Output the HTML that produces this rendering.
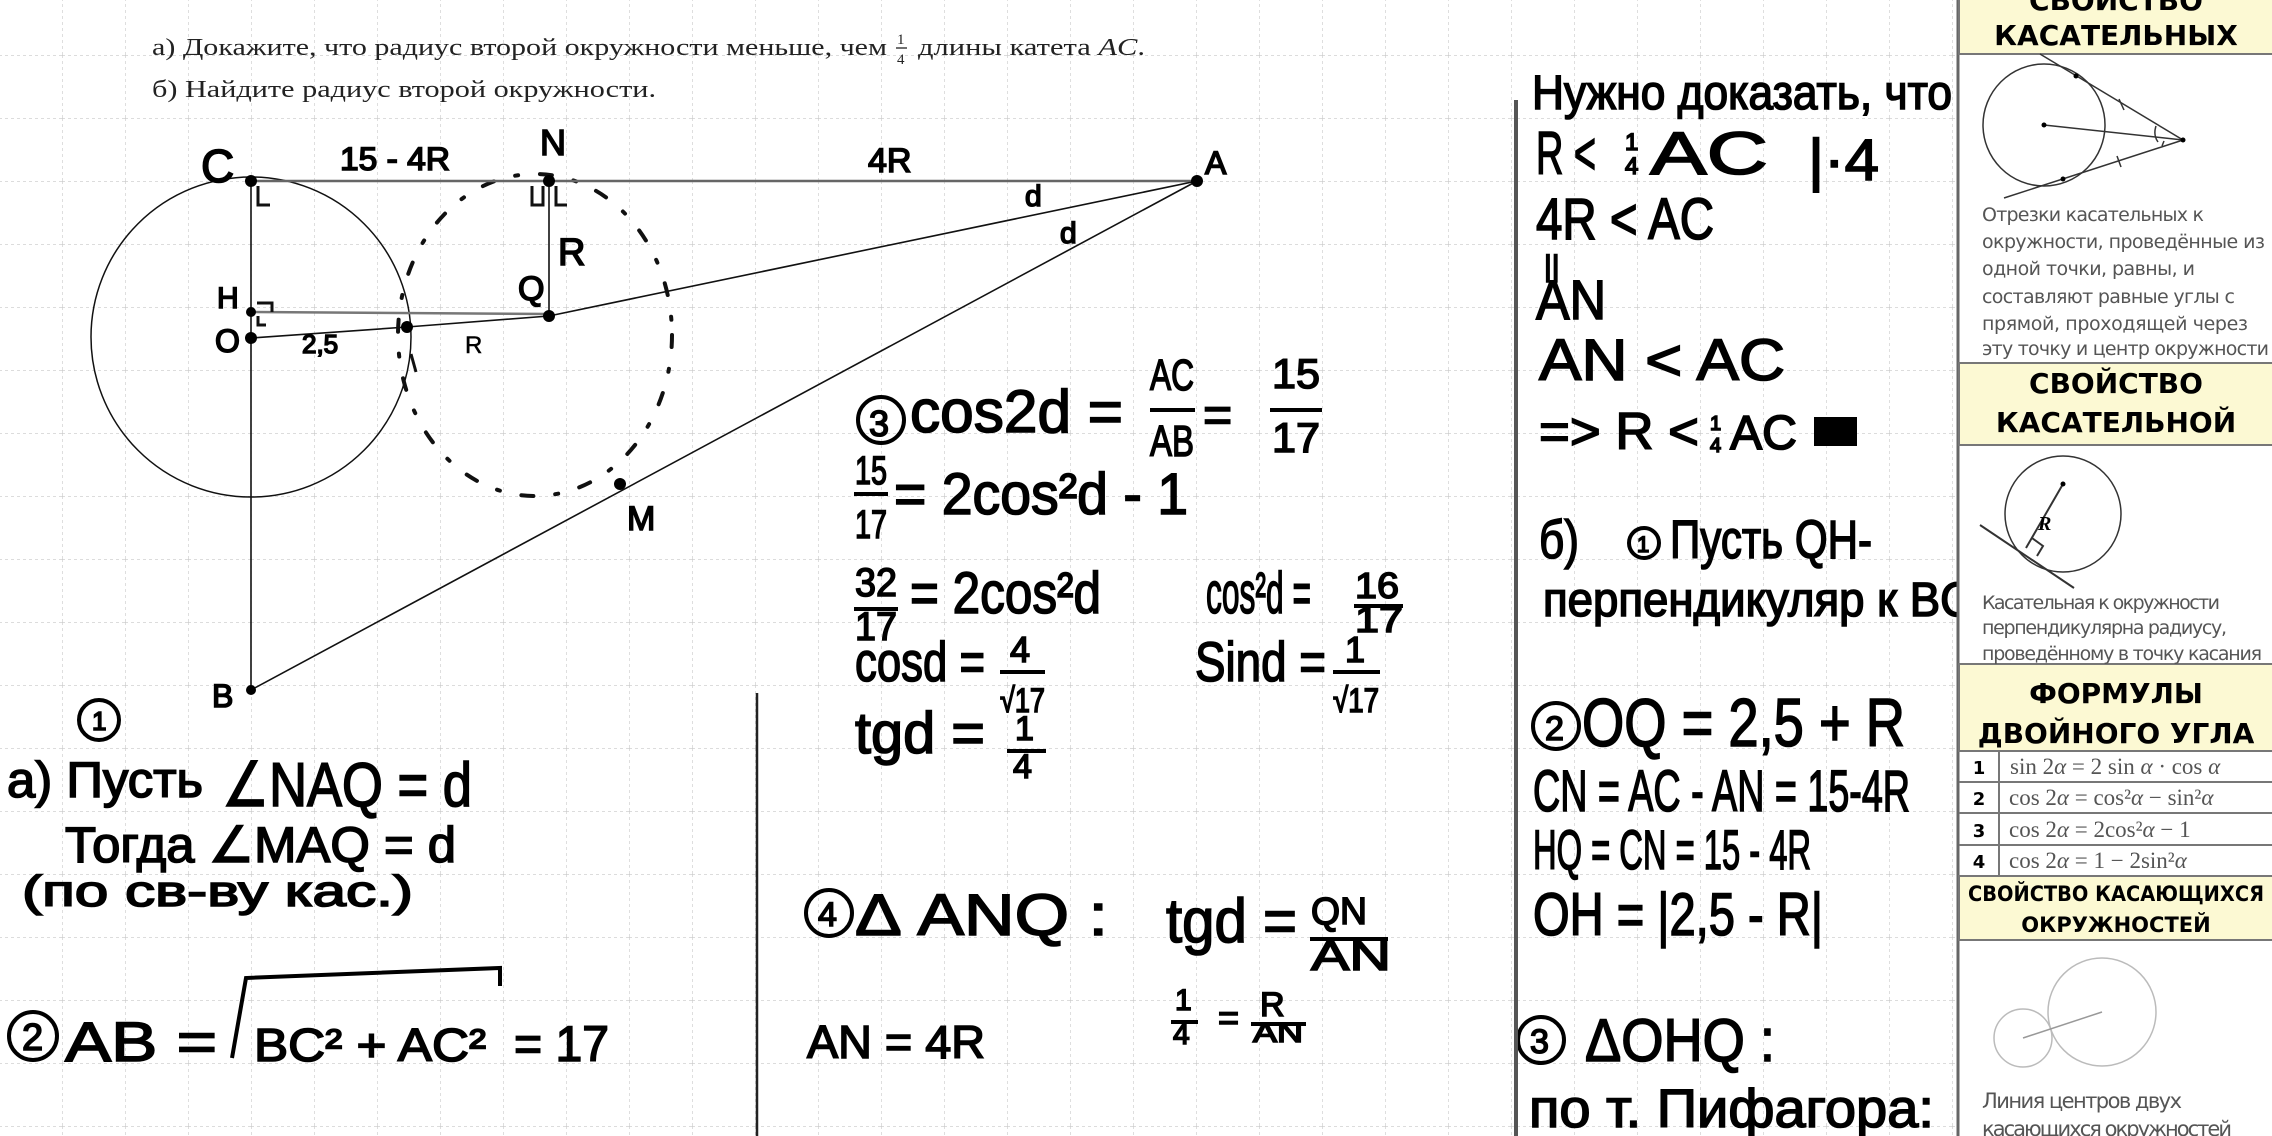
<!DOCTYPE html>
<html><head><meta charset="utf-8"><style>
html,body{margin:0;padding:0;background:#fff}
svg{display:block}
.h{font-family:"Liberation Sans","DejaVu Sans",sans-serif;font-weight:normal;fill:#000;stroke:#000;stroke-width:1.6}
.s{font-family:"Liberation Serif",serif;fill:#222}
.p{font-family:"DejaVu Sans","Liberation Sans",sans-serif;fill:#555}
.hd{font-family:"DejaVu Sans","Liberation Sans",sans-serif;font-weight:bold;fill:#000}
.m{font-family:"Liberation Serif",serif;fill:#555}
</style></head><body>
<svg width="2272" height="1136" viewBox="0 0 2272 1136" xmlns="http://www.w3.org/2000/svg">
<defs>
<pattern id="g" x="62" y="55" width="63" height="63" patternUnits="userSpaceOnUse">
<path d="M0 0V63M0 0H63" stroke="#c8c8c8" stroke-width="1.2" stroke-dasharray="3 3" fill="none"/>
</pattern>
</defs>
<rect width="1958" height="1136" fill="#fff"/>
<rect width="1958" height="1136" fill="url(#g)"/>

<!-- problem text -->
<text class="s" x="152" y="55" font-size="24" textLength="735" lengthAdjust="spacingAndGlyphs">а) Докажите, что радиус второй окружности меньше, чем</text>
<text class="s" x="897" y="44" font-size="15">1</text>
<line x1="896" y1="48" x2="907" y2="48" stroke="#222" stroke-width="1.3"/>
<text class="s" x="897" y="64" font-size="15">4</text>
<text class="s" x="918" y="55" font-size="24" textLength="227" lengthAdjust="spacingAndGlyphs">длины катета <tspan font-style="italic">AC</tspan>.</text>
<text class="s" x="152" y="97" font-size="24" textLength="504" lengthAdjust="spacingAndGlyphs">б) Найдите радиус второй окружности.</text>

<!-- geometry -->
<g stroke="#111" fill="none">
<circle cx="251" cy="337" r="160" stroke-width="1.5"/>
<ellipse cx="535" cy="335" rx="137" ry="161" stroke-width="4" stroke-dasharray="12 22 3 22" stroke-linecap="round"/>
<line x1="251" y1="181" x2="1197" y2="181" stroke-width="2.5" stroke="#666"/>
<line x1="251" y1="181" x2="251" y2="690" stroke-width="1.6"/>
<line x1="1197" y1="181" x2="251" y2="690" stroke-width="1.6"/>
<line x1="1197" y1="181" x2="549" y2="316" stroke-width="1.6"/>
<line x1="251" y1="312" x2="549" y2="314" stroke-width="2.5" stroke="#777"/>
<polyline points="251,338 407,327 549,316" stroke-width="1.6"/>
<line x1="549" y1="181" x2="549" y2="316" stroke-width="1.6"/>
<path d="M258 186V205H270" stroke-width="3"/>
<path d="M543 186V205H532V186" stroke-width="3"/>
<path d="M556 186V205H567" stroke-width="3"/>
<path d="M257 303H272V312" stroke-width="3"/>
<path d="M258 316V325H266" stroke-width="3"/>
<path d="M411 354L416 372" stroke-width="3"/>
</g>
<g fill="#000">
<circle cx="251" cy="181" r="6"/><circle cx="1197" cy="181" r="6"/><circle cx="251" cy="690" r="5"/>
<circle cx="549" cy="181" r="6"/><circle cx="549" cy="316" r="6"/><circle cx="251" cy="312" r="5"/>
<circle cx="251" cy="338" r="6"/><circle cx="407" cy="327" r="6"/><circle cx="620" cy="484" r="6"/>
</g>
<g class="h">
<text x="201" y="182" font-size="46">C</text>
<text x="340" y="170" font-size="32" textLength="110" lengthAdjust="spacingAndGlyphs">15 - 4R</text>
<text x="540" y="155" font-size="36">N</text>
<text x="868" y="172" font-size="34">4R</text>
<text x="1205" y="174" font-size="32">A</text>
<text x="1025" y="206" font-size="30">d</text>
<text x="1060" y="243" font-size="30">d</text>
<text x="558" y="265" font-size="38">R</text>
<text x="518" y="300" font-size="34">Q</text>
<text x="217" y="308" font-size="30">H</text>
<text x="215" y="352" font-size="32">O</text>
<text x="302" y="353" font-size="26">2,5</text>
<text x="465" y="353" font-size="24" stroke-width="0.5">R</text>
<text x="627" y="530" font-size="34">M</text>
<text x="212" y="707" font-size="32">B</text>
</g>

<!-- left bottom -->
<g stroke="#000" stroke-width="4" fill="none">
<circle cx="99" cy="720" r="20"/>
<circle cx="33" cy="1036" r="24"/>
<path d="M232 1058L246 978L500 968V986"/>
<circle cx="881" cy="420" r="23"/>
<circle cx="829" cy="913" r="23"/>
<circle cx="1644" cy="543" r="15"/>
<circle cx="1556" cy="726" r="23"/>
<circle cx="1541" cy="1040" r="23"/>
</g>
<g class="h">
<text x="92" y="730" font-size="26">1</text>
<text x="7" y="797" font-size="50" textLength="196" lengthAdjust="spacingAndGlyphs">а) Пусть</text>
<text x="222" y="806" font-size="62" textLength="250" lengthAdjust="spacingAndGlyphs">∠NAQ = d</text>
<text x="65" y="862" font-size="50" textLength="391" lengthAdjust="spacingAndGlyphs">Тогда ∠MAQ = d</text>
<text x="22" y="906" font-size="44" textLength="391" lengthAdjust="spacingAndGlyphs">(по св-ву кас.)</text>
<text x="22" y="1050" font-size="38">2</text>
<text x="65" y="1061" font-size="56" textLength="152" lengthAdjust="spacingAndGlyphs">AB =</text>
<text x="254" y="1061" font-size="46" textLength="232" lengthAdjust="spacingAndGlyphs">BC² + AC²</text>
<text x="514" y="1061" font-size="50" textLength="95" lengthAdjust="spacingAndGlyphs">= 17</text>

<!-- middle -->
<text x="869" y="436" font-size="36">3</text>
<text x="910" y="432" font-size="60" textLength="213" lengthAdjust="spacingAndGlyphs">cos2d =</text>
<text x="1150" y="390" font-size="44" textLength="44" lengthAdjust="spacingAndGlyphs">AC</text>
<text x="1150" y="456" font-size="44" textLength="44" lengthAdjust="spacingAndGlyphs">AB</text>
<text x="1203" y="432" font-size="50">=</text>
<text x="1272" y="388" font-size="42" textLength="48" lengthAdjust="spacingAndGlyphs">15</text>
<text x="1272" y="452" font-size="42" textLength="48" lengthAdjust="spacingAndGlyphs">17</text>

<text x="855" y="484" font-size="40" textLength="32" lengthAdjust="spacingAndGlyphs">15</text>
<text x="855" y="538" font-size="40" textLength="32" lengthAdjust="spacingAndGlyphs">17</text>
<text x="894" y="514" font-size="58" textLength="294" lengthAdjust="spacingAndGlyphs">= 2cos²d - 1</text>

<text x="855" y="596" font-size="40" textLength="42" lengthAdjust="spacingAndGlyphs">32</text>
<text x="855" y="640" font-size="40" textLength="42" lengthAdjust="spacingAndGlyphs">17</text>
<text x="910" y="613" font-size="58" textLength="191" lengthAdjust="spacingAndGlyphs">= 2cos²d</text>

<text x="1206" y="613" font-size="58" textLength="105" lengthAdjust="spacingAndGlyphs">cos²d =</text>
<text x="1355" y="598" font-size="36" textLength="44" lengthAdjust="spacingAndGlyphs">16</text>
<text x="1355" y="632" font-size="36" textLength="48" lengthAdjust="spacingAndGlyphs">17</text>

<text x="855" y="681" font-size="56" textLength="130" lengthAdjust="spacingAndGlyphs">cosd =</text>
<text x="1010" y="662" font-size="36">4</text>
<text x="1000" y="712" font-size="34" textLength="45" lengthAdjust="spacingAndGlyphs">√17</text>
<text x="1195" y="681" font-size="56" textLength="131" lengthAdjust="spacingAndGlyphs">Sind =</text>
<text x="1345" y="662" font-size="36">1</text>
<text x="1333" y="712" font-size="34" textLength="46" lengthAdjust="spacingAndGlyphs">√17</text>

<text x="855" y="753" font-size="58" textLength="130" lengthAdjust="spacingAndGlyphs">tgd =</text>
<text x="1015" y="740" font-size="34">1</text>
<text x="1013" y="778" font-size="34">4</text>

<text x="818" y="926" font-size="34">4</text>
<text x="855" y="935" font-size="58" textLength="253" lengthAdjust="spacingAndGlyphs">Δ ANQ :</text>
<text x="1166" y="942" font-size="62" textLength="131" lengthAdjust="spacingAndGlyphs">tgd =</text>
<text x="1311" y="924" font-size="38" textLength="56" lengthAdjust="spacingAndGlyphs">QN</text>
<text x="1311" y="970" font-size="42" textLength="80" lengthAdjust="spacingAndGlyphs">AN</text>
<text x="1175" y="1010" font-size="30">1</text>
<text x="1173" y="1044" font-size="30">4</text>
<text x="1218" y="1030" font-size="36">=</text>
<text x="1260" y="1016" font-size="34">R</text>
<text x="1253" y="1042" font-size="28" textLength="50" lengthAdjust="spacingAndGlyphs">AN</text>
<text x="807" y="1058" font-size="46" textLength="178" lengthAdjust="spacingAndGlyphs">AN = 4R</text>
</g>
<g stroke="#000" stroke-width="4">
<line x1="1150" y1="410" x2="1195" y2="410"/>
<line x1="1270" y1="410" x2="1322" y2="410"/>
<line x1="854" y1="494" x2="888" y2="494"/>
<line x1="854" y1="609" x2="898" y2="609"/>
<line x1="1354" y1="606" x2="1403" y2="606"/>
<line x1="1000" y1="672" x2="1045" y2="672"/>
<line x1="1333" y1="672" x2="1380" y2="672"/>
<line x1="1007" y1="751" x2="1046" y2="751"/>
<line x1="1310" y1="939" x2="1388" y2="939"/>
<line x1="1171" y1="1022" x2="1198" y2="1022"/>
<line x1="1251" y1="1024" x2="1306" y2="1024"/>
</g>
<line x1="757" y1="693" x2="757" y2="1136" stroke="#222" stroke-width="2.5"/>

<!-- right column -->
<line x1="1516" y1="100" x2="1516" y2="1136" stroke="#555" stroke-width="4"/>
<g class="h">
<text x="1532" y="109" font-size="48" textLength="420" lengthAdjust="spacingAndGlyphs">Нужно доказать, что</text>
<text x="1536" y="174" font-size="60" textLength="60" lengthAdjust="spacingAndGlyphs">R &lt;</text>
<text x="1625" y="150" font-size="24">1</text>
<text x="1625" y="174" font-size="24">4</text>
<text x="1650" y="174" font-size="60" textLength="118" lengthAdjust="spacingAndGlyphs">AC</text>
<text x="1808" y="180" font-size="58" textLength="71" lengthAdjust="spacingAndGlyphs">|·4</text>
<text x="1536" y="239" font-size="58" textLength="178" lengthAdjust="spacingAndGlyphs">4R &lt; AC</text>
<text x="1544" y="276" font-size="30">||</text>
<text x="1536" y="319" font-size="56" textLength="70" lengthAdjust="spacingAndGlyphs">AN</text>
<text x="1539" y="380" font-size="58" textLength="246" lengthAdjust="spacingAndGlyphs">AN &lt; AC</text>
<text x="1539" y="449" font-size="52" textLength="160" lengthAdjust="spacingAndGlyphs">=&gt; R &lt;</text>
<text x="1710" y="430" font-size="20">1</text>
<text x="1710" y="452" font-size="20">4</text>
<text x="1730" y="449" font-size="48" textLength="67" lengthAdjust="spacingAndGlyphs">AC</text>
<text x="1539" y="558" font-size="54" textLength="40" lengthAdjust="spacingAndGlyphs">б)</text>
<text x="1637" y="552" font-size="22">1</text>
<text x="1670" y="558" font-size="54" textLength="202" lengthAdjust="spacingAndGlyphs">Пусть QH-</text>
<text x="1543" y="616" font-size="48" textLength="430" lengthAdjust="spacingAndGlyphs">перпендикуляр к BC</text>
<text x="1545" y="740" font-size="34">2</text>
<text x="1582" y="746" font-size="68" textLength="323" lengthAdjust="spacingAndGlyphs">OQ = 2,5 + R</text>
<text x="1533" y="811" font-size="58" textLength="377" lengthAdjust="spacingAndGlyphs">CN = AC - AN = 15-4R</text>
<text x="1533" y="869" font-size="56" textLength="278" lengthAdjust="spacingAndGlyphs">HQ = CN = 15 - 4R</text>
<text x="1533" y="935" font-size="60" textLength="290" lengthAdjust="spacingAndGlyphs">OH = |2,5 - R|</text>
<text x="1530" y="1053" font-size="34">3</text>
<text x="1585" y="1061" font-size="60" textLength="190" lengthAdjust="spacingAndGlyphs">ΔOHQ :</text>
<text x="1529" y="1127" font-size="54" textLength="405" lengthAdjust="spacingAndGlyphs">по т. Пифагора:</text>
</g>
<rect x="1814" y="417" width="43" height="29" fill="#000"/>

<!-- reference panel -->
<rect x="1958" y="0" width="314" height="1136" fill="#fff"/>
<line x1="1958" y1="0" x2="1958" y2="1136" stroke="#666" stroke-width="3"/>
<g fill="#fcf9d3" stroke="#777" stroke-width="2">
<rect x="1959" y="-2" width="315" height="56"/>
<rect x="1959" y="363" width="315" height="82"/>
<rect x="1959" y="664" width="315" height="87"/>
<rect x="1959" y="876" width="315" height="64"/>
</g>
<g class="hd" text-anchor="middle">
<text x="2116" y="10" font-size="28">СВОЙСТВО</text>
<text x="2116" y="45" font-size="28">КАСАТЕЛЬНЫХ</text>
<text x="2116" y="393" font-size="28">СВОЙСТВО</text>
<text x="2116" y="432" font-size="28">КАСАТЕЛЬНОЙ</text>
<text x="2116" y="703" font-size="28">ФОРМУЛЫ</text>
<text x="2116" y="743" font-size="28">ДВОЙНОГО УГЛА</text>
<text x="2116" y="901" font-size="21" textLength="296" lengthAdjust="spacingAndGlyphs">СВОЙСТВО КАСАЮЩИХСЯ</text>
<text x="2116" y="932" font-size="21">ОКРУЖНОСТЕЙ</text>
</g>
<!-- fig 1 -->
<g stroke="#333" stroke-width="1.5" fill="none">
<circle cx="2044" cy="125" r="61"/>
<line x1="2040" y1="54" x2="2183" y2="140"/>
<line x1="2004" y1="198" x2="2183" y2="140"/>
<line x1="2044" y1="125" x2="2183" y2="140"/>
<path d="M2156 126Q2153 135 2158 142M2162 146L2164 141"/>
<line x1="2119" y1="99" x2="2124" y2="110"/>
<line x1="2117" y1="156" x2="2121" y2="167"/>
<!-- fig 2 -->
<circle cx="2063" cy="514" r="58"/>
<line x1="2063" y1="484" x2="2026" y2="548" stroke-width="2"/>
<line x1="1980" y1="525" x2="2074" y2="588" stroke-width="2"/>
<path d="M2032 538L2043 546L2037 556" stroke-width="2"/>
<!-- fig 4 -->
<circle cx="2023" cy="1038" r="29" stroke="#bbb"/>
<circle cx="2102" cy="1012" r="54" stroke="#bbb"/>
<line x1="2023" y1="1038" x2="2102" y2="1012" stroke="#999"/>
</g>
<circle cx="2044" cy="125" r="2.5" fill="#000"/><circle cx="2183" cy="140" r="2.5" fill="#000"/>
<circle cx="2076" cy="76" r="2.5" fill="#000"/><circle cx="2063" cy="179" r="2.5" fill="#000"/>
<circle cx="2063" cy="484" r="2.5" fill="#000"/>
<text x="2038" y="530" font-family="Liberation Serif" font-style="italic" font-weight="bold" font-size="20">R</text>
<g class="p" font-size="19" lengthAdjust="spacingAndGlyphs">
<text x="1982" y="221" textLength="222">Отрезки касательных к</text>
<text x="1982" y="248" textLength="283">окружности, проведённые из</text>
<text x="1982" y="275" textLength="213">одной точки, равны, и</text>
<text x="1982" y="303" textLength="253">составляют равные углы с</text>
<text x="1982" y="330" textLength="266">прямой, проходящей через</text>
<text x="1982" y="355" textLength="287">эту точку и центр окружности</text>
<text x="1982" y="609" textLength="238">Касательная к окружности</text>
<text x="1982" y="634" textLength="245">перпендикулярна радиусу,</text>
<text x="1982" y="660" textLength="280">проведённому в точку касания</text>
<text x="1982" y="1108" font-size="21" textLength="200">Линия центров двух</text>
<text x="1982" y="1136" font-size="21" textLength="250">касающихся окружностей</text>
</g>
<!-- table -->
<g stroke="#777" stroke-width="2">
<line x1="1959" y1="782" x2="2272" y2="782"/>
<line x1="1959" y1="813" x2="2272" y2="813"/>
<line x1="1959" y1="845" x2="2272" y2="845"/>
<line x1="1999" y1="751" x2="1999" y2="876"/>
</g>
<g class="hd" font-size="18" text-anchor="middle">
<text x="1979" y="774">1</text><text x="1979" y="805">2</text><text x="1979" y="837">3</text><text x="1979" y="868">4</text>
</g>
<g class="m" font-size="23">
<text x="2010" y="774">sin 2<tspan font-style="italic">α</tspan> = 2 sin <tspan font-style="italic">α</tspan> · cos <tspan font-style="italic">α</tspan></text>
<text x="2009" y="805">cos 2<tspan font-style="italic">α</tspan> = cos²<tspan font-style="italic">α</tspan> − sin²<tspan font-style="italic">α</tspan></text>
<text x="2009" y="837">cos 2<tspan font-style="italic">α</tspan> = 2cos²<tspan font-style="italic">α</tspan> − 1</text>
<text x="2009" y="868">cos 2<tspan font-style="italic">α</tspan> = 1 − 2sin²<tspan font-style="italic">α</tspan></text>
</g>
</svg>
</body></html>
